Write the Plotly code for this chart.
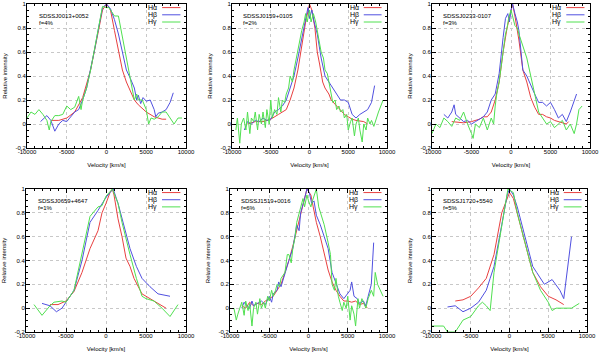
import plotly.graph_objects as go

# ---------------- data ----------------
names = ["SDSSJ0013+0052", "SDSSJ0159+0105", "SDSSJ0233-0107",
         "SDSSJ0659+4647", "SDSSJ1519+0016", "SDSSJ1720+5540"]
fracs = ["f=4%", "f=2%", "f=3%", "f=1%", "f=6%", "f=5%"]
line_labels = ["H\u03b1", "H\u03b2", "H\u03b3"]
x_ticks = [-10000, -5000, 0, 5000, 10000]
y_ticks = [-0.2, 0, 0.2, 0.4, 0.6, 0.8, 1]

# panel 1
p1_ha_v = [-7000, -6000, -5000, -4000, -3000, -2000, -1000, -500, 0, 500, 1000, 1500, 2000, 2500, 3000, 3500, 4000, 5000, 6000, 7000, 7500]
p1_ha_i = [0.03, 0.03, 0.05, 0.1, 0.22, 0.45, 0.78, 0.95, 1.0, 0.95, 0.78, 0.6, 0.45, 0.35, 0.27, 0.2, 0.16, 0.1, 0.06, 0.04, 0.04]
p1_hb_v = [-8300, -7500, -7000, -6500, -6000, -5500, -5000, -4500, -4000, -3500, -3000, -2500, -2000, -1500, -1000, -500, 0, 300, 500, 1000, 1500, 2000, 2500, 3000, 3500, 3800, 4000, 4300, 4600, 5000, 5500, 6000, 6200, 6500, 7000, 7500, 8000, 8400]
p1_hb_i = [0.02, 0.07, 0.03, -0.06, 0.0, 0.03, 0.02, 0.06, 0.1, 0.12, 0.2, 0.3, 0.45, 0.62, 0.8, 0.97, 1.0, 0.98, 0.96, 0.87, 0.75, 0.6, 0.45, 0.38, 0.3, 0.2, 0.24, 0.17, 0.22, 0.19, 0.2, 0.12, 0.06, 0.09, 0.1, 0.12, 0.18, 0.26]
p1_hg_v = [-10000, -9500, -9000, -8500, -8000, -7500, -7200, -7000, -6500, -6000, -5500, -5000, -4500, -4000, -3500, -3200, -3000, -2500, -2000, -1500, -1000, -500, 0, 300, 500, 1000, 1500, 2000, 2500, 3000, 3300, 3500, 3800, 4000, 4500, 5000, 5300, 5600, 6000, 6500, 7000, 7500, 8000, 8500, 9000, 9500]
p1_hg_i = [0.05, 0.1, 0.08, 0.12, 0.08, 0.03, -0.05, 0.02, 0.07, 0.07, 0.08, 0.15, 0.12, 0.14, 0.23, 0.12, 0.2, 0.3, 0.45, 0.62, 0.8, 0.98, 0.97, 0.97, 0.95, 0.9, 0.9, 0.72, 0.55, 0.35, 0.27, 0.2, 0.25, 0.2, 0.2, 0.12, 0.0, 0.05, 0.04, 0.06, 0.1, 0.1, 0.05, 0.0, 0.05, 0.05]

# panel 2
p2_ha_v = [-8000, -7000, -6000, -5000, -4000, -3000, -2500, -2000, -1500, -1000, -500, 0, 300, 700, 1000, 1300, 1700, 2000, 2500, 2800, 3500, 4000, 4500, 5000, 5500, 6000, 7000, 7500]
p2_ha_i = [0.0, 0.02, 0.02, 0.04, 0.08, 0.12, 0.2, 0.3, 0.45, 0.65, 0.85, 1.0, 0.95, 0.8, 0.6, 0.5, 0.35, 0.3, 0.25, 0.2, 0.15, 0.12, 0.08, 0.06, 0.04, 0.03, 0.02, 0.0]
p2_hb_v = [-8400, -8000, -7500, -7000, -6500, -6000, -5500, -5000, -4500, -4000, -3500, -3000, -2500, -2000, -1500, -1000, -500, -200, 0, 300, 600, 1000, 1500, 2000, 2500, 3000, 3500, 4000, 4500, 5000, 5500, 6000, 6500, 7000, 7500, 8000, 8400]
p2_hb_i = [-0.05, 0.02, 0.0, 0.03, 0.02, 0.05, 0.03, 0.04, 0.1, 0.12, 0.15, 0.2, 0.3, 0.4, 0.55, 0.72, 0.9, 0.97, 0.88, 0.95, 0.85, 0.75, 0.55, 0.4, 0.35, 0.3, 0.25, 0.2, 0.2, 0.18, 0.08, 0.05, 0.08, 0.1, 0.12, 0.18, 0.32]
p2_hg_v = [-9500, -9300, -9000, -8800, -8500, -8200, -8000, -7700, -7500, -7200, -7000, -6700, -6500, -6200, -6000, -5700, -5500, -5200, -5000, -4800, -4500, -4200, -4000, -3700, -3500, -3200, -3000, -2700, -2500, -2200, -2000, -1700, -1500, -1200, -1000, -700, -500, -300, 0, 200, 500, 800, 1000, 1300, 1500, 1800, 2000, 2300, 2500, 2800, 3000, 3300, 3500, 3800, 4000, 4300, 4500, 4800, 5000, 5300, 5500, 5800, 6000, 6300, 6500, 6800, 7000, 7300, 7500, 7800, 8000, 8300, 8600, 8900, 9200, 9500]
p2_hg_i = [-0.05, 0.05, -0.16, 0.0, 0.05, -0.05, 0.1, -0.08, 0.05, 0.02, 0.1, -0.05, 0.08, 0.0, 0.1, -0.03, 0.12, 0.0, 0.2, 0.05, 0.12, 0.08, 0.22, 0.1, 0.2, 0.18, 0.25, 0.3, 0.4, 0.35, 0.45, 0.55, 0.62, 0.7, 0.78, 0.85, 0.92, 0.85, 0.95, 0.85, 0.92, 0.85, 0.78, 0.65, 0.6, 0.55, 0.45, 0.42, 0.35, 0.25, 0.18, 0.2, 0.12, 0.15, 0.1, 0.12, 0.05, 0.08, -0.05, 0.02, 0.05, -0.1, 0.0, 0.05, -0.05, -0.15, 0.0, -0.05, 0.05, 0.0, 0.03, -0.02, 0.05, 0.1, 0.15, 0.2]

# panel 3
p3_ha_v = [-7500, -6000, -5000, -4000, -3500, -3000, -2500, -2000, -1500, -1000, -500, 0, 200, 500, 1000, 1500, 2000, 2500, 3000, 3500, 4000, 4500, 5000, 5500, 6000, 6500, 7000, 7300]
p3_ha_i = [0.02, 0.01, 0.02, 0.04, 0.06, 0.06, 0.1, 0.2, 0.35, 0.6, 0.8, 0.95, 1.0, 0.9, 0.7, 0.45, 0.35, 0.22, 0.14, 0.08, 0.08, 0.06, 0.05, 0.03, 0.02, 0.01, 0.0, 0.02]
p3_hb_v = [-8500, -8000, -7500, -7200, -7000, -6500, -6000, -5500, -5000, -4500, -4000, -3500, -3000, -2700, -2500, -2000, -1500, -1000, -700, -400, -200, 0, 200, 500, 800, 1000, 1300, 1500, 2000, 2500, 3000, 3500, 4000, 4500, 5000, 5500, 6000, 6500, 7000, 7500, 8000, 8300]
p3_hb_i = [0.08, 0.05, 0.1, 0.16, 0.08, 0.05, 0.02, 0.03, 0.0, 0.02, 0.04, 0.06, 0.1, 0.15, 0.2, 0.25, 0.42, 0.72, 0.88, 0.92, 0.85, 0.95, 1.0, 0.92, 0.85, 0.78, 0.55, 0.45, 0.4, 0.32, 0.25, 0.18, 0.18, 0.15, 0.18, 0.12, 0.05, 0.08, 0.02, 0.1, 0.2, 0.25]
p3_hg_v = [-10000, -9500, -9000, -8500, -8000, -7500, -7000, -6500, -6000, -5500, -5000, -4800, -4500, -4000, -3500, -3000, -2500, -2200, -2000, -1800, -1500, -1200, -1000, -700, -500, -300, 0, 300, 500, 800, 1000, 1500, 2000, 2500, 3000, 3300, 3500, 4000, 4500, 5000, 5500, 6000, 6500, 7000, 7500, 8000, 8300, 8600, 9000]
p3_hg_i = [-0.08, 0.0, -0.03, 0.05, 0.02, -0.02, 0.05, 0.03, 0.1, 0.0, -0.08, -0.12, 0.0, -0.03, 0.05, -0.05, 0.05, 0.0, 0.15, 0.25, 0.35, 0.5, 0.6, 0.75, 0.8, 0.88, 0.95, 0.88, 0.82, 0.8, 0.75, 0.65, 0.55, 0.4, 0.25, 0.15, 0.1, 0.05, 0.0, 0.02, -0.03, 0.0, 0.03, -0.05, 0.0, -0.08, 0.0, 0.12, 0.15]

# panel 4
p4_ha_v = [-7000, -6000, -5000, -4000, -3000, -2000, -1000, -500, 0, 500, 800, 1000, 1500, 2000, 2500, 3000, 3500, 4000, 4500, 5000, 6000, 7000, 7500]
p4_ha_i = [0.03, 0.03, 0.06, 0.14, 0.3, 0.5, 0.65, 0.8, 0.88, 0.97, 1.0, 0.95, 0.75, 0.6, 0.42, 0.35, 0.25, 0.18, 0.12, 0.1, 0.06, 0.02, 0.0]
p4_hb_v = [-8000, -7000, -6200, -5500, -5000, -4000, -3000, -2000, -1000, -500, 0, 500, 900, 1500, 2000, 3000, 3800, 4500, 5500, 6500, 8000]
p4_hb_i = [0.04, 0.02, -0.03, 0.0, 0.05, 0.15, 0.4, 0.72, 0.82, 0.88, 0.93, 0.97, 1.0, 0.88, 0.75, 0.5, 0.35, 0.25, 0.18, 0.12, 0.1]
p4_hg_v = [-9000, -8000, -7000, -6500, -5500, -5000, -4000, -3000, -2000, -1000, -500, 0, 500, 800, 1500, 2000, 3000, 3800, 4500, 5000, 6000, 7000, 8000, 9000]
p4_hg_i = [0.03, -0.06, 0.02, 0.05, 0.06, 0.05, 0.15, 0.45, 0.77, 0.85, 0.86, 0.94, 0.98, 1.0, 0.88, 0.72, 0.45, 0.25, 0.1, 0.08, 0.06, 0.0, -0.07, 0.03]

# panel 5
p5_ha_v = [-8500, -8000, -7500, -7000, -6500, -6000, -5500, -5000, -4500, -4000, -3500, -3000, -2500, -2000, -1500, -1000, -500, -200, 0, 300, 600, 1000, 1500, 2000, 2500, 3000, 3500, 4000, 4500, 5000, 5500, 6000, 6500, 7000, 7500]
p5_ha_i = [0.02, 0.0, 0.05, 0.02, 0.04, 0.03, 0.06, 0.08, 0.1, 0.15, 0.2, 0.3, 0.4, 0.52, 0.65, 0.8, 0.92, 1.0, 0.98, 0.95, 0.85, 0.72, 0.6, 0.45, 0.32, 0.22, 0.15, 0.1, 0.06, 0.06, 0.05, 0.06, 0.03, 0.04, 0.0]
p5_hb_v = [-8500, -8200, -8000, -7500, -7200, -7000, -6500, -6000, -5500, -5000, -4700, -4500, -4000, -3800, -3500, -3000, -2500, -2000, -1500, -1200, -1000, -500, -200, 100, 400, 700, 1000, 1500, 2000, 2500, 3000, 3500, 4000, 4500, 5000, 5300, 5500, 5800, 6200, 6500, 7000, 7300, 7600, 8000, 8300]
p5_hb_i = [0.0, 0.05, 0.03, 0.0, 0.06, 0.02, 0.04, 0.06, 0.03, 0.1, 0.05, 0.12, 0.15, 0.22, 0.18, 0.3, 0.4, 0.5, 0.7, 0.65, 0.8, 0.92, 1.0, 0.97, 0.88, 0.9, 0.78, 0.7, 0.6, 0.5, 0.3, 0.2, 0.12, 0.08, 0.12, 0.15, 0.22, 0.1, 0.08, 0.04, 0.06, 0.02, 0.1, 0.2, 0.55]
p5_hg_v = [-9500, -9200, -9000, -8700, -8500, -8200, -8000, -7700, -7500, -7200, -7000, -6700, -6500, -6200, -6000, -5700, -5500, -5200, -5000, -4700, -4500, -4200, -4000, -3700, -3500, -3000, -2700, -2500, -2200, -2000, -1700, -1500, -1200, -1000, -700, -500, -200, 0, 300, 500, 800, 1000, 1300, 1500, 2000, 2500, 2800, 3000, 3300, 3500, 3800, 4000, 4300, 4500, 4800, 5000, 5300, 5500, 5800, 6000, 6300, 6500, 6800, 7000, 7300, 7600, 8000, 8300, 8500, 8800, 9200, 9500]
p5_hg_i = [0.0, -0.1, -0.05, 0.0, 0.05, -0.06, 0.06, -0.02, 0.04, -0.15, 0.0, 0.05, -0.05, 0.08, 0.0, 0.05, 0.0, 0.1, 0.06, 0.15, 0.1, 0.15, 0.2, 0.18, 0.25, 0.3, 0.45, 0.45, 0.38, 0.5, 0.6, 0.72, 0.8, 0.85, 0.92, 0.85, 0.95, 0.9, 0.85, 0.9, 0.95, 1.0, 0.85, 0.8, 0.7, 0.55, 0.45, 0.2, 0.15, 0.25, 0.1, 0.05, -0.02, 0.05, 0.0, 0.1, -0.1, 0.02, -0.05, -0.15, 0.08, 0.0, 0.08, 0.05, 0.0, 0.08, 0.15, 0.1, 0.3, 0.2, 0.15, 0.1]

# panel 6
p6_ha_v = [-7000, -6000, -5000, -4000, -3000, -2500, -2000, -1000, 0, 500, 1000, 2000, 3000, 4000, 5000, 6000, 7000]
p6_ha_i = [0.06, 0.07, 0.1, 0.17, 0.25, 0.35, 0.45, 0.8, 0.97, 0.92, 0.8, 0.55, 0.3, 0.18, 0.1, 0.07, 0.03]
p6_hb_v = [-8000, -7000, -6000, -5000, -4000, -3000, -2500, -2000, -1000, -300, 0, 500, 1000, 2000, 3000, 3500, 4500, 5500, 6500, 7000, 8000]
p6_hb_i = [0.01, 0.02, -0.03, 0.0, 0.05, 0.15, 0.25, 0.35, 0.7, 0.95, 1.0, 0.95, 0.85, 0.6, 0.35, 0.3, 0.2, 0.24, 0.15, 0.08, 0.6]
p6_hg_v = [-10000, -9000, -8500, -8000, -7000, -6000, -5000, -4000, -3500, -3000, -2500, -2000, -1500, -1000, -500, -200, 500, 1000, 2000, 3000, 4000, 5000, 5500, 6000, 7000, 8000, 9000]
p6_hg_i = [-0.15, -0.15, -0.15, -0.2, -0.2, -0.1, -0.07, 0.02, 0.05, 0.02, -0.02, 0.3, 0.5, 0.7, 0.9, 1.0, 0.97, 0.8, 0.55, 0.3, 0.15, 0.05, -0.02, 0.0, 0.0, 0.0, 0.04]

panels = [
    [(p1_ha_v, p1_ha_i), (p1_hb_v, p1_hb_i), (p1_hg_v, p1_hg_i)],
    [(p2_ha_v, p2_ha_i), (p2_hb_v, p2_hb_i), (p2_hg_v, p2_hg_i)],
    [(p3_ha_v, p3_ha_i), (p3_hb_v, p3_hb_i), (p3_hg_v, p3_hg_i)],
    [(p4_ha_v, p4_ha_i), (p4_hb_v, p4_hb_i), (p4_hg_v, p4_hg_i)],
    [(p5_ha_v, p5_ha_i), (p5_hb_v, p5_hb_i), (p5_hg_v, p5_hg_i)],
    [(p6_ha_v, p6_ha_i), (p6_hb_v, p6_hb_i), (p6_hg_v, p6_hg_i)],
]

# ---------------- styling ----------------
W, H = 600, 352
colors = ["#e84040", "#5050e0", "#50e050"]
FONT = "Liberation Sans, Arial, sans-serif"
x_doms = [(27, 186), (232, 387), (432, 590), (26, 186), (230, 387), (432, 587)]
y_rows = [(4, 148), (4, 148), (4, 148), (189, 332), (189, 332), (189, 332)]

fig = go.Figure()
layout = dict(width=W, height=H, margin=dict(l=0, r=0, t=0, b=0),
              paper_bgcolor="white", plot_bgcolor="white", showlegend=False,
              font=dict(family=FONT, size=6, color="black"))
annotations = []
shapes = []

for k in range(6):
    n = k + 1
    xa = "x" if n == 1 else f"x{n}"
    ya = "y" if n == 1 else f"y{n}"
    for j, (v, i) in enumerate(panels[k]):
        fig.add_trace(go.Scatter(x=v, y=i, mode="lines", xaxis=xa, yaxis=ya,
                                 line=dict(color=colors[j], width=1)))
    x0, x1 = x_doms[k]
    t0, t1 = y_rows[k]
    common = dict(showline=True, linecolor="black", linewidth=1, mirror="allticks",
                  ticks="inside", ticklen=4, tickcolor="black", tickwidth=1,
                  showgrid=True, gridcolor="#c8c8c8", griddash="dot", gridwidth=1,
                  zeroline=False, tickfont=dict(size=6, family=FONT), automargin=False)
    layout["xaxis" if n == 1 else f"xaxis{n}"] = dict(
        common, domain=[x0 / W, x1 / W], anchor=ya, range=[-10000, 10000],
        tickvals=x_ticks, ticktext=[str(t) for t in x_ticks], ticklabelstandoff=-2,
        minor=dict(ticks="inside", ticklen=2, tickcolor="black", dtick=1000, showgrid=False),
        title=dict(text="Velocity [km/s]", font=dict(size=6, family=FONT), standoff=8))
    layout["yaxis" if n == 1 else f"yaxis{n}"] = dict(
        common, domain=[1 - t1 / H, 1 - t0 / H], anchor=xa, range=[-0.2, 1],
        tickvals=y_ticks, ticktext=["-0.2", "0", "0.2", "0.4", "0.6", "0.8", "1"],
        ticklabelstandoff=-1,
        minor=dict(ticks="inside", ticklen=2, tickcolor="black", dtick=0.05, showgrid=False),
        title=dict(text="Relative intensity", font=dict(size=6, family=FONT), standoff=7))
    xd = xa + " domain"
    yd = ya + " domain"
    annotations.append(dict(text=names[k], xref=xd, yref=yd, x=0.06, y=0.915,
                            xanchor="left", yanchor="middle", showarrow=False,
                            font=dict(size=6, family=FONT)))
    annotations.append(dict(text=fracs[k], xref=xd, yref=yd, x=0.06, y=0.865,
                            xanchor="left", yanchor="middle", showarrow=False,
                            font=dict(size=6, family=FONT)))
    for j in range(3):
        yy = 0.975 - j * 0.05
        annotations.append(dict(text=line_labels[j], xref=xd, yref=yd, x=0.83, y=yy,
                                xanchor="right", yanchor="middle", showarrow=False,
                                font=dict(size=7, family=FONT)))
        shapes.append(dict(type="line", xref=xd, yref=yd, x0=0.85, x1=0.965, y0=yy, y1=yy,
                           line=dict(color=colors[j], width=1)))

layout["annotations"] = annotations
layout["shapes"] = shapes
fig.update_layout(**layout)
fig.write_html("out.html", config={"displayModeBar": False},
               post_script="document.body.style.margin='0';document.body.style.padding='0';")
